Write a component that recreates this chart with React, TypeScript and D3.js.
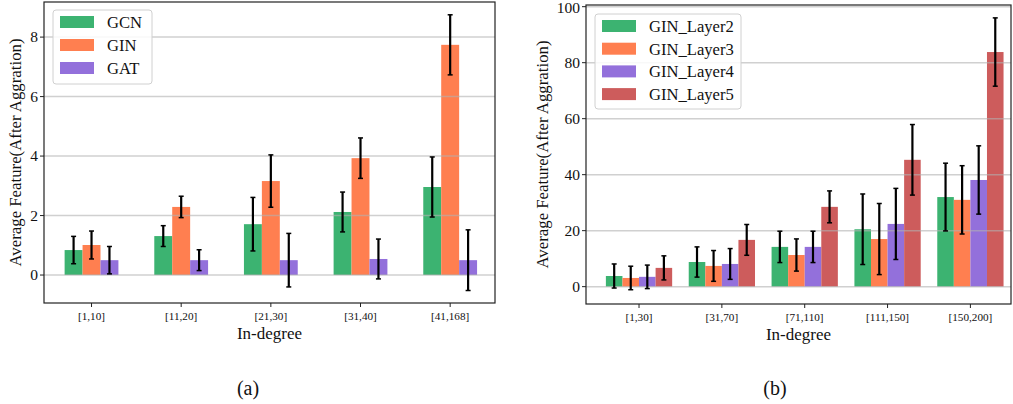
import React from "react";
import * as d3 from "d3";

const categoriesA = ["[1,10]", "[11,20]", "[21,30]", "[31,40]", "[41,168]"];
const seriesNamesA = ["GCN", "GIN", "GAT"];
const gcnValues = [0.84, 1.31, 1.71, 2.12, 2.96];
const gcnErrors = [0.46, 0.35, 0.9, 0.67, 1.01];
const ginValues = [1.01, 2.29, 3.16, 3.93, 7.74];
const ginErrors = [0.47, 0.36, 0.88, 0.68, 1.01];
const gatValues = [0.5, 0.5, 0.5, 0.54, 0.5];
const gatErrors = [0.46, 0.35, 0.9, 0.67, 1.02];
const yTicksA = [0, 2, 4, 6, 8];

const categoriesB = ["[1,30]", "[31,70]", "[71,110]", "[111,150]", "[150,200]"];
const seriesNamesB = ["GIN_Layer2", "GIN_Layer3", "GIN_Layer4", "GIN_Layer5"];
const layer2Values = [3.8, 8.8, 14.2, 20.5, 32.0];
const layer2Errors = [4.3, 5.4, 5.6, 12.6, 12.1];
const layer3Values = [3.1, 7.4, 11.3, 17.0, 31.0];
const layer3Errors = [4.2, 5.5, 5.75, 12.7, 12.2];
const layer4Values = [3.5, 8.1, 14.2, 22.4, 38.1];
const layer4Errors = [4.2, 5.5, 5.6, 12.7, 12.2];
const layer5Values = [6.7, 16.7, 28.5, 45.3, 83.8];
const layer5Errors = [4.3, 5.5, 5.7, 12.6, 12.2];
const yTicksB = [0, 20, 40, 60, 80, 100];

const GREEN = "#3CB371";
const CORAL = "#FF7F50";
const PURPLE = "#9370DB";
const RED = "#CD5C5C";

const FONT = "'Liberation Serif', 'Times New Roman', serif";

type Series = { name: string; values: number[]; errors: number[]; color: string };

type PanelProps = {
  categories: string[];
  series: Series[];
  yTicks: number[];
  xDomain: [number, number];
  xRange: [number, number];
  yDomain: [number, number];
  yRange: [number, number];
  legend: { x: number; y: number; w: number; h: number; rowGap: number };
  yLabelX: number;
  caption: string;
  captionX: number;
};

function Panel(p: PanelProps) {
  const x = d3.scaleLinear().domain(p.xDomain).range(p.xRange);
  const y = d3.scaleLinear().domain(p.yDomain).range(p.yRange);
  const n = p.series.length;
  const bw = 0.2;
  const [x0, x1] = p.xRange;
  const [yb, yt] = p.yRange;
  const fmt = d3.format("d");
  return (
    <g>
      {p.series.map((s, j) =>
        s.values.map((v, i) => {
          const c = i + (j - (n - 1) / 2) * bw;
          const left = x(c - bw / 2);
          const right = x(c + bw / 2);
          return (
            <rect
              key={`b${j}-${i}`}
              x={left}
              y={Math.min(y(v), y(0))}
              width={right - left}
              height={Math.abs(y(0) - y(v))}
              fill={s.color}
            />
          );
        })
      )}
      {p.yTicks.map((t) => (
        <line
          key={`g${t}`}
          x1={x0}
          x2={x1}
          y1={y(t)}
          y2={y(t)}
          stroke="#b0b0b0"
          strokeOpacity={0.6}
          strokeWidth={1.5}
        />
      ))}
      {p.series.map((s, j) =>
        s.values.map((v, i) => {
          const c = i + (j - (n - 1) / 2) * bw;
          const cx = x(c);
          const hi = y(v + s.errors[i]);
          const lo = y(v - s.errors[i]);
          return (
            <g key={`e${j}-${i}`} stroke="#000">
              <line x1={cx} x2={cx} y1={hi} y2={lo} strokeWidth={2.2} />
              <line x1={cx - 2.5} x2={cx + 2.5} y1={hi} y2={hi} strokeWidth={1.5} />
              <line x1={cx - 2.5} x2={cx + 2.5} y1={lo} y2={lo} strokeWidth={1.5} />
            </g>
          );
        })
      )}
      <rect x={x0} y={yt} width={x1 - x0} height={yb - yt} fill="none" stroke="#222" strokeWidth={1.2} />
      {p.yTicks.map((t) => (
        <g key={`yt${t}`}>
          <line x1={x0 - 4} x2={x0} y1={y(t)} y2={y(t)} stroke="#222" />
          <text
            x={x0 - 6}
            y={Math.max(y(t), 8)}
            dy="0.33em"
            textAnchor="end"
            fontSize={15.5}
            fontFamily={FONT}
            fill="#111"
          >
            {fmt(t)}
          </text>
        </g>
      ))}
      {p.categories.map((c, i) => (
        <g key={`xt${i}`}>
          <line x1={x(i)} x2={x(i)} y1={yb} y2={yb + 4} stroke="#222" />
          <text x={x(i)} y={yb + 17} textAnchor="middle" fontSize={11.2} fontFamily={FONT} fill="#111">
            {c}
          </text>
        </g>
      ))}
      <text x={(x0 + x1) / 2} y={yb + 36} textAnchor="middle" fontSize={17} fontFamily={FONT} fill="#111">
        In-degree
      </text>
      <text
        transform={`translate(${p.yLabelX},${(yb + yt) / 2}) rotate(-90)`}
        textAnchor="middle"
        dy="0.35em"
        fontSize={16.8}
        fontFamily={FONT}
        fill="#111"
      >
        Average Feature(After Aggration)
      </text>
      <rect
        x={p.legend.x}
        y={p.legend.y}
        width={p.legend.w}
        height={p.legend.h}
        rx={3}
        fill="#fff"
        fillOpacity={0.85}
        stroke="#d0d0d0"
      />
      {p.series.map((s, j) => {
        const cy = p.legend.y + 12 + j * p.legend.rowGap;
        return (
          <g key={`l${j}`}>
            <rect x={p.legend.x + 7} y={cy - 6} width={34} height={12} fill={s.color} />
            <text x={p.legend.x + 54} y={cy} dy="0.35em" fontSize={16.6} fontFamily={FONT} fill="#111">
              {s.name}
            </text>
          </g>
        );
      })}
      <text x={p.captionX} y={395} textAnchor="middle" fontSize={20} fontFamily={FONT} fill="#111">
        {p.caption}
      </text>
    </g>
  );
}

export default function App() {
  const seriesA: Series[] = [
    { name: seriesNamesA[0], values: gcnValues, errors: gcnErrors, color: GREEN },
    { name: seriesNamesA[1], values: ginValues, errors: ginErrors, color: CORAL },
    { name: seriesNamesA[2], values: gatValues, errors: gatErrors, color: PURPLE },
  ];
  const seriesB: Series[] = [
    { name: seriesNamesB[0], values: layer2Values, errors: layer2Errors, color: GREEN },
    { name: seriesNamesB[1], values: layer3Values, errors: layer3Errors, color: CORAL },
    { name: seriesNamesB[2], values: layer4Values, errors: layer4Errors, color: PURPLE },
    { name: seriesNamesB[3], values: layer5Values, errors: layer5Errors, color: RED },
  ];
  return (
    <svg
      width={1013}
      height={404}
      style={{ position: "absolute", left: 0, top: 0, background: "#fff" }}
    >
      <rect width={1013} height={404} fill="#fff" />
      <Panel
        categories={categoriesA}
        series={seriesA}
        yTicks={yTicksA}
        xDomain={[-0.53, 4.5]}
        xRange={[44, 495]}
        yDomain={[-0.94, 9.18]}
        yRange={[303, 2]}
        legend={{ x: 53, y: 10, w: 99, h: 74, rowGap: 23 }}
        yLabelX={15}
        caption="(a)"
        captionX={248}
      />
      <Panel
        categories={categoriesB}
        series={seriesB}
        yTicks={yTicksB}
        xDomain={[-0.64, 4.49]}
        xRange={[586, 1011]}
        yDomain={[-6.2, 100.6]}
        yRange={[304, 5]}
        legend={{ x: 595, y: 14, w: 146, h: 95, rowGap: 22.7 }}
        yLabelX={542}
        caption="(b)"
        captionX={775}
      />
    </svg>
  );
}
